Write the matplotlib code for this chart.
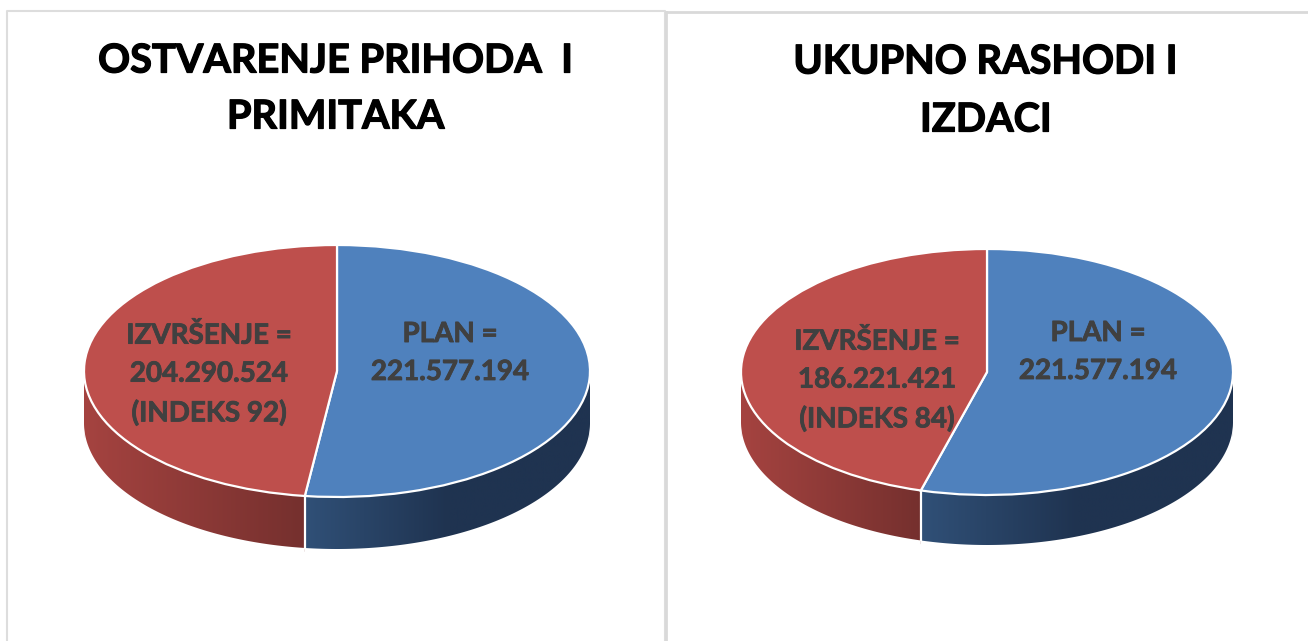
import numpy as np
from matplotlib import pyplot as plt
from matplotlib.colors import LinearSegmentedColormap
from matplotlib.patches import Polygon
import matplotlib.patheffects as pe

W, H = 1308, 641

titles = ['OSTVARENJE PRIHODA  I\nPRIMITAKA', 'UKUPNO RASHODI I\nIZDACI']
plan = [221577194, 221577194]
izvrsenje = [204290524, 186221421]
plan_labels = ['PLAN =\n221.577.194', 'PLAN =\n221.577.194']
izvrsenje_labels = ['IZVRŠENJE =\n204.290.524\n(INDEKS 92)', 'IZVRŠENJE =\n186.221.421\n(INDEKS 84)']

plt.rcParams['font.family'] = ['Lato', 'DejaVu Sans']

blue = '#4F81BD'
red = '#BE4F4C'
blue_wall = LinearSegmentedColormap.from_list('bw', ['#305077', '#1F3350', '#1F3350'])
red_wall = LinearSegmentedColormap.from_list('rw', ['#A54340', '#75302E'])

fig = plt.figure(figsize=(W / 100, H / 100), dpi=100)
bg = fig.add_axes([0, 0, 1, 1])
bg.set_xlim(0, W)
bg.set_ylim(H, 0)
bg.axis('off')
bg.set_zorder(5)

# panel borders
bg.plot([7, 7, 665, 665], [641, 10.5, 10.5, 641], color='#DDDDDD', lw=1.5)
bg.plot([666, 666], [641, 12], color='#D9D9D9', lw=2)
bg.plot([666, 1308], [12, 12], color='#D9D9D9', lw=2)


def wall(ax, t0, t1, d, cmap, x0, x1):
    t = np.radians(np.linspace(t0, t1, 300))
    xs = np.cos(t)
    ys = np.sin(t)
    # extra strip below the rim, hidden later by the white band
    pts = np.r_[np.c_[xs, ys], np.c_[xs[::-1], ys[::-1] - d - 0.03]]
    poly = Polygon(pts, closed=True, fc='none', ec='none', transform=ax.transData)
    ax.add_patch(poly)
    grad = np.linspace(0, 1, 256).reshape(1, -1)
    im = ax.imshow(grad, cmap=cmap, extent=[x0, x1, -1 - d - 0.1, 1], aspect='auto', zorder=1)
    im.set_clip_path(poly)
    band = np.r_[np.c_[xs, ys - d], np.c_[xs[::-1], ys[::-1] - d - 0.06]]
    ax.add_patch(Polygon(band, closed=True, fc='white', ec='none', zorder=1.5, clip_on=False))


def draw_pie(i, left, right, top, bottom, depth):
    ry = (bottom - top) / 2
    d = depth / ry
    low = bottom + depth + 10
    ax = fig.add_axes([left / W, 1 - low / H, (right - left) / W, (low - top) / H])
    ax.pie([plan[i], izvrsenje[i]], colors=[blue, red], startangle=90,
           counterclock=False, radius=1,
           wedgeprops={'edgecolor': 'white', 'linewidth': 1.6, 'clip_on': False, 'zorder': 3})
    ax.set_aspect('auto')

    # angle of the boundary between the two slices, seen on the front rim
    split = 90 - 360 * plan[i] / (plan[i] + izvrsenje[i])
    split_x = np.cos(np.radians(split))
    wall(ax, 180, 360 + split, d, red_wall, -1, split_x)
    wall(ax, 360 + split, 360, d, blue_wall, split_x, 1)

    # white line down the wall at the split
    sy = np.sin(np.radians(split))
    ax.plot([split_x, split_x], [sy, sy - d], color='white', lw=1.6, zorder=2, clip_on=False)

    ax.set_xlim(-1, 1)
    ax.set_ylim(-1 - (depth + 10) / ry, 1)
    ax.axis('off')


draw_pie(0, 84, 590, 245, 497, 52)
draw_pie(1, 741, 1233, 249, 495, 50)

# titles
bold = [pe.withStroke(linewidth=0.9, foreground='black')]
title_style = dict(ha='center', va='center', fontsize=28.6, fontweight='bold', color='black',
                   path_effects=bold)
bg.text(336, 61, titles[0].split('\n')[0], **title_style)
bg.text(336, 117, titles[0].split('\n')[1], **title_style)
bg.text(986, 62, titles[1].split('\n')[0], **title_style)
bg.text(986, 120, titles[1].split('\n')[1], **title_style)

# slice labels
label_style = dict(ha='center', va='center', fontsize=20, fontweight='bold', color='#404040',
                   linespacing=1.57, path_effects=[pe.withStroke(linewidth=0.6, foreground='#404040')])
bg.text(450, 353, plan_labels[0], **label_style)
bg.text(209, 374, izvrsenje_labels[0], **label_style)
bg.text(1098, 352, plan_labels[1], **label_style)
bg.text(877, 380, izvrsenje_labels[1], **label_style)

fig.savefig('out.png', dpi=100)
